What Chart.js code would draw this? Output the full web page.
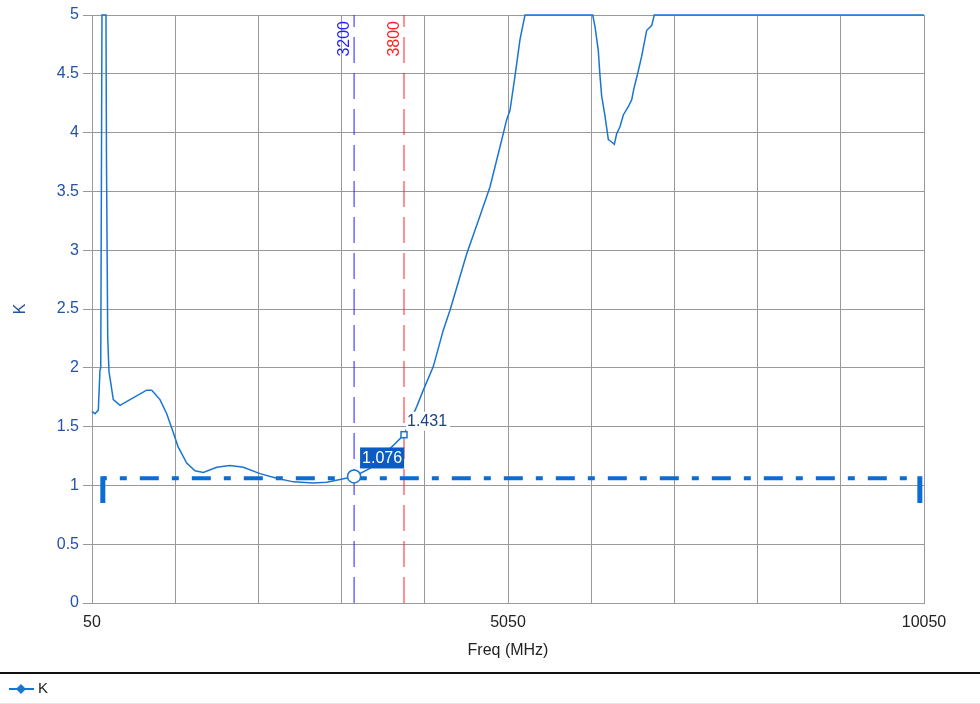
<!DOCTYPE html>
<html>
<head>
<meta charset="utf-8">
<title>K vs Freq</title>
<script src="https://cdn.jsdelivr.net/npm/chart.js@4.4.1/dist/chart.umd.min.js"></script>
<style>
  body { margin: 0; background: #fff; }
  canvas { display: block; }
</style>
</head>
<body>
<canvas id="grafico" width="980" height="704"></canvas>
<script>
// ------------------------------
// Datos
// ------------------------------
const freq = [50, 86, 126, 146, 155, 170, 218, 224, 239, 254, 306, 387, 507, 707, 768, 867, 948, 1027, 1084, 1188,
  1288, 1388, 1549, 1709, 1869, 2069, 2270, 2470, 2710, 2871, 3031, 3200, 3391, 3800, 3953, 4032, 4152, 4272,
  4353, 4554, 4713, 4834, 4954, 5034, 5074, 5134, 5194, 5254, 6068, 6096, 6135, 6156, 6176, 6216, 6256, 6296,
  6328, 6356, 6396, 6436, 6496, 6537, 6565, 6604, 6657, 6717, 6777, 6808, 10050];
const kValues = [1.63, 1.61, 1.64, 1.98, 2.0, 5, 5, 3.77, 2.26, 1.97, 1.73, 1.68, 1.73, 1.81, 1.81, 1.73, 1.61, 1.45, 1.33, 1.19,
  1.125, 1.11, 1.154, 1.17, 1.154, 1.10, 1.06, 1.03, 1.02, 1.026, 1.05, 1.076, 1.145, 1.431, 1.67, 1.81, 2.01, 2.32,
  2.49, 2.97, 3.29, 3.54, 3.88, 4.11, 4.19, 4.48, 4.79, 5, 5, 4.90, 4.70, 4.48, 4.31, 4.14, 3.94, 3.92,
  3.90, 3.99, 4.05, 4.15, 4.22, 4.28, 4.38, 4.49, 4.65, 4.87, 4.91, 5, 5];

// marcadores
const markerFreqs = [3200, 3800];
const markerValues = [1.076, 1.431];

// linea limite
const limitFreqs = [180, 10000];
const limitValue = 1.06;
const limitCapBottom = 0.85;

// ejes
const xTicks = [50, 1050, 2050, 3050, 4050, 5050, 6050, 7050, 8050, 9050, 10050];
const xLabeled = [50, 5050, 10050];
const yTicks = [0, 0.5, 1, 1.5, 2, 2.5, 3, 3.5, 4, 4.5, 5];

const azul = "#1a75d2";
const azulTexto = "#2352a6";
const fuente = "'Liberation Sans', Arial, sans-serif";

const curva = freq.map((f, i) => ({ x: f, y: kValues[i] }));

// ------------------------------
// Plugin: etiquetas, leyenda y separador
// ------------------------------
const extras = {
  id: "extras",
  afterDatasetsDraw(chart) {
    const ctx = chart.ctx;
    const xs = chart.scales.x, ys = chart.scales.y;
    ctx.save();
    ctx.font = "16px " + fuente;

    // textos verticales de los marcadores
    const colores = ["#1f1fff", "#ff2020"];
    markerFreqs.forEach((f, i) => {
      const px = xs.getPixelForValue(f);
      ctx.save();
      ctx.translate(px - 9, chart.chartArea.top + 6);
      ctx.rotate(-Math.PI / 2);
      ctx.fillStyle = colores[i];
      ctx.textAlign = "right";
      ctx.textBaseline = "middle";
      ctx.fillText(String(f), 0, 0);
      ctx.restore();
    });

    // valor 1 (caja azul)
    let px = xs.getPixelForValue(markerFreqs[0]);
    let py = ys.getPixelForValue(markerValues[0]);
    const t1 = markerValues[0].toFixed(3);
    const w1 = ctx.measureText(t1).width + 4;
    ctx.fillStyle = "#0a5cc2";
    ctx.fillRect(px + 6, py - 29, w1, 21);
    ctx.fillStyle = "#fff";
    ctx.textBaseline = "middle";
    ctx.textAlign = "left";
    ctx.fillText(t1, px + 8, py - 18);

    // valor 2 (fondo blanco)
    px = xs.getPixelForValue(markerFreqs[1]);
    py = ys.getPixelForValue(markerValues[1]);
    const t2 = markerValues[1].toFixed(3);
    const w2 = ctx.measureText(t2).width + 4;
    ctx.fillStyle = "#fff";
    ctx.fillRect(px + 2, py - 23, w2, 19);
    ctx.fillStyle = "#1d3f8a";
    ctx.fillText(t2, px + 3, py - 13);

    // marcadores encima de todo
    ctx.lineWidth = 1.5;
    ctx.strokeStyle = azul;
    ctx.fillStyle = "#fff";
    px = xs.getPixelForValue(markerFreqs[0]);
    py = ys.getPixelForValue(markerValues[0]);
    ctx.beginPath(); ctx.arc(px, py, 6.5, 0, Math.PI * 2); ctx.fill(); ctx.stroke();
    px = xs.getPixelForValue(markerFreqs[1]);
    py = ys.getPixelForValue(markerValues[1]);
    ctx.fillRect(px - 3, py - 3, 6, 6); ctx.strokeRect(px - 3, py - 3, 6, 6);
    ctx.restore();
  },
  afterDraw(chart) {
    const ctx = chart.ctx;
    ctx.save();
    ctx.fillStyle = "#111";
    ctx.fillRect(0, 672, chart.width, 2);
    ctx.fillStyle = "#e4e4e4";
    ctx.fillRect(0, 703, chart.width, 1);

    // leyenda: linea con rombo + "K"
    const y = 689;
    ctx.strokeStyle = azul; ctx.lineWidth = 2;
    ctx.beginPath(); ctx.moveTo(9, y); ctx.lineTo(34, y); ctx.stroke();
    ctx.fillStyle = azul;
    ctx.beginPath(); ctx.moveTo(21, y - 5); ctx.lineTo(26, y); ctx.lineTo(21, y + 5); ctx.lineTo(16, y); ctx.closePath(); ctx.fill();
    ctx.fillStyle = "#222";
    ctx.font = "15px " + fuente;
    ctx.textBaseline = "middle";
    ctx.textAlign = "left";
    ctx.fillText(chart.data.datasets[0].label, 38, y);
    ctx.restore();
  }
};

new Chart(document.getElementById("grafico"), {
  type: "line",
  data: {
    datasets: [
      {
        label: "K",
        data: curva,
        borderColor: azul,
        borderWidth: 1.5,
        pointRadius: 0,
        tension: 0,
        clip: 4
      },
      {
        label: "limite",
        data: limitFreqs.map(f => ({ x: f, y: limitValue })),
        borderColor: "#0b6cd4",
        borderWidth: 4,
        borderDash: [19, 13, 7, 13],
        borderDashOffset: 15,
        pointRadius: 0
      },
      {
        label: "cap1",
        data: [{ x: limitFreqs[0], y: limitValue + 0.017 }, { x: limitFreqs[0], y: limitCapBottom }],
        borderColor: "#0b6cd4",
        borderWidth: 5,
        pointRadius: 0
      },
      {
        label: "cap2",
        data: [{ x: limitFreqs[1], y: limitValue + 0.017 }, { x: limitFreqs[1], y: limitCapBottom }],
        borderColor: "#0b6cd4",
        borderWidth: 5,
        pointRadius: 0
      },
      {
        label: "m1",
        data: [{ x: markerFreqs[0], y: 0 }, { x: markerFreqs[0], y: 5 }],
        borderColor: "#1f1fff",
        borderWidth: 1,
        borderDash: [26, 10],
        pointRadius: 0
      },
      {
        label: "m2",
        data: [{ x: markerFreqs[1], y: 0 }, { x: markerFreqs[1], y: 5 }],
        borderColor: "#ff2020",
        borderWidth: 1,
        borderDash: [26, 10],
        pointRadius: 0
      }
    ]
  },
  options: {
    responsive: false,
    animation: false,
    layout: { padding: { top: 15, right: 56, left: 0, bottom: 30 } },
    plugins: {
      tooltip: { enabled: false },
      legend: { display: false }
    },
    scales: {
      x: {
        type: "linear",
        min: 50,
        max: 10050,
        afterBuildTicks: scale => { scale.ticks = xTicks.map(v => ({ value: v })); },
        afterFit: scale => { scale.height = 71; },
        ticks: {
          autoSkip: false,
          maxRotation: 0,
          padding: 10,
          color: "#222",
          font: { family: fuente, size: 16 },
          callback: v => xLabeled.includes(v) ? String(v) : ""
        },
        grid: { color: "#999", lineWidth: 1, drawTicks: false },
        border: { color: "#999" },
        title: {
          display: true,
          text: "Freq (MHz)",
          color: "#222",
          font: { family: fuente, size: 16 },
          padding: { top: 0, bottom: 14 }
        }
      },
      y: {
        min: 0,
        max: 5,
        afterBuildTicks: scale => { scale.ticks = yTicks.map(v => ({ value: v })); },
        afterFit: scale => { scale.width = 92; },
        ticks: {
          padding: 4,
          color: azulTexto,
          font: { family: fuente, size: 16 },
          callback: v => String(v)
        },
        grid: { color: "#999", lineWidth: 1, tickLength: 9 },
        border: { color: "#999" },
        title: {
          display: true,
          text: "K",
          color: azulTexto,
          font: { family: fuente, size: 16 },
          padding: { top: 11, bottom: 0 }
        }
      }
    }
  },
  plugins: [extras]
});
</script>
</body>
</html>
